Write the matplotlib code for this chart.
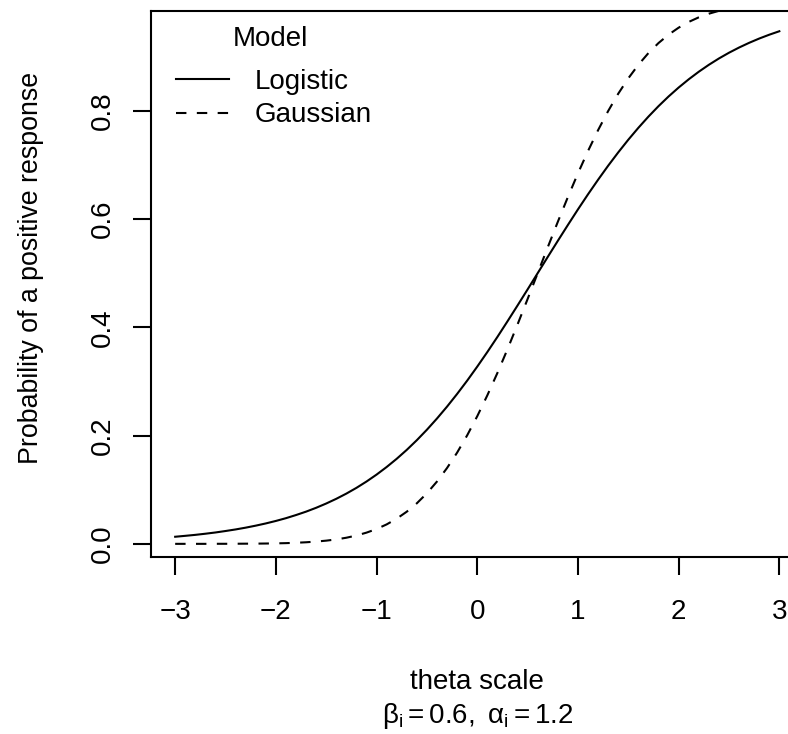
import matplotlib
matplotlib.use("Agg")
import matplotlib.pyplot as plt
from matplotlib.lines import Line2D

plt.rcParams['font.family'] = ['Liberation Sans', 'DejaVu Sans']
plt.rcParams['mathtext.fontset'] = 'custom'
plt.rcParams['mathtext.rm'] = 'Liberation Sans'
plt.rcParams['mathtext.it'] = 'Liberation Sans'
plt.rcParams['mathtext.bf'] = 'Liberation Sans'

# theta grid and probabilities
theta = [-3.0, -2.9, -2.8, -2.7, -2.6, -2.5, -2.4, -2.3, -2.2, -2.1,
         -2.0, -1.9, -1.8, -1.7, -1.6, -1.5, -1.4, -1.3, -1.2, -1.1,
         -1.0, -0.9, -0.8, -0.7, -0.6, -0.5, -0.4, -0.3, -0.2, -0.1,
         0.0, 0.1, 0.2, 0.3, 0.4, 0.5, 0.6, 0.7, 0.8, 0.9,
         1.0, 1.1, 1.2, 1.3, 1.4, 1.5, 1.6, 1.7, 1.8, 1.9,
         2.0, 2.1, 2.2, 2.3, 2.4, 2.5, 2.6, 2.7, 2.8, 2.9, 3.0]
logistic = [0.0131, 0.0148, 0.0166, 0.0187, 0.0210, 0.0237, 0.0266, 0.0299, 0.0336, 0.0377,
            0.0423, 0.0474, 0.0532, 0.0595, 0.0666, 0.0745, 0.0832, 0.0928, 0.1034, 0.1151,
            0.1279, 0.1419, 0.1571, 0.1736, 0.1915, 0.2108, 0.2315, 0.2535, 0.2769, 0.3015,
            0.3274, 0.3543, 0.3822, 0.4110, 0.4403, 0.4700, 0.5000, 0.5300, 0.5597, 0.5890,
            0.6178, 0.6457, 0.6726, 0.6985, 0.7231, 0.7465, 0.7685, 0.7892, 0.8085, 0.8264,
            0.8429, 0.8581, 0.8721, 0.8849, 0.8966, 0.9072, 0.9168, 0.9255, 0.9334, 0.9405, 0.9469]
gaussian = [0.0000, 0.0000, 0.0000, 0.0000, 0.0001, 0.0001, 0.0002, 0.0003, 0.0004, 0.0006,
            0.0009, 0.0013, 0.0020, 0.0029, 0.0042, 0.0059, 0.0082, 0.0113, 0.0154, 0.0207,
            0.0274, 0.0359, 0.0465, 0.0594, 0.0749, 0.0934, 0.1151, 0.1401, 0.1685, 0.2005,
            0.2358, 0.2743, 0.3156, 0.3594, 0.4052, 0.4522, 0.5000, 0.5478, 0.5948, 0.6406,
            0.6844, 0.7257, 0.7642, 0.7995, 0.8315, 0.8599, 0.8849, 0.9066, 0.9251, 0.9406,
            0.9535, 0.9641, 0.9726, 0.9793, 0.9846, 0.9887, 0.9918, 0.9941, 0.9959, 0.9971, 0.9980]
x_ticks = [-3, -2, -1, 0, 1, 2, 3]
y_ticks = [0.0, 0.2, 0.4, 0.6, 0.8]
y_tick_labels = ["0.0", "0.2", "0.4", "0.6", "0.8"]
series_names = ["Logistic", "Gaussian"]
legend_title = "Model"
x_label = "theta scale"
x_sublabel = r"$\mathrm{\beta_i = 0.6,\ \alpha_i = 1.2}$"
y_label = "Probability of a positive response"

W, H = 788, 734
fig = plt.figure(figsize=(W / 100, H / 100), dpi=100)
# plot box runs past the right edge of the image in the reference; keep the
# visible part only (same data-to-pixel scale: -3.24..3.24 over 652.5 px)
ax_left, ax_top, ax_bottom = 151, 11, 557
px_per_unit = 652.5 / 6.48
ax_right = W
x_min = -3.24
x_max = x_min + (ax_right - ax_left) / px_per_unit
ax = fig.add_axes([ax_left / W, 1 - ax_bottom / H, (ax_right - ax_left) / W, (ax_bottom - ax_top) / H])

lw = 1.5
dash = (0, (5, 5))
ax.plot(theta, logistic, color='black', lw=lw, linestyle='-')
ax.plot(theta, gaussian, color='black', lw=lw, linestyle=dash)

ax.set_xlim(x_min, x_max)
ax.set_ylim(-0.0243, 0.9843)
ax.set_xticks(x_ticks)
ax.set_xticklabels([f"\u2212{abs(v)}" if v < 0 else str(v) for v in x_ticks])
ax.set_yticks(y_ticks)
ax.set_yticklabels(y_tick_labels, rotation=90, va='center')

for s in ax.spines.values():
    s.set_linewidth(lw)
ax.spines['right'].set_visible(False)
ax.tick_params(axis='both', length=13, width=lw, labelsize=20, direction='out', color='black')
ax.tick_params(axis='x', pad=17)
ax.tick_params(axis='y', pad=12)

# axis labels (centred on the full plot box, which ends at ~803 px)
box_center_x = (ax_left + 803.5) / 2
ax.set_xlabel(x_label, fontsize=20)
ax.xaxis.label.set_va('center')
ax.xaxis.set_label_coords((box_center_x - ax_left) / (ax_right - ax_left), (ax_bottom - 682) / (ax_bottom - ax_top))
fig.text(box_center_x / W, 1 - 716 / H, x_sublabel, fontsize=20, ha='center', va='center')

ax.set_ylabel(y_label, fontsize=19.3)
ax.yaxis.label.set_va('center')
ax.yaxis.set_label_coords((31 - ax_left) / (ax_right - ax_left), (ax_bottom - 268) / (ax_bottom - ax_top))

# legend (no frame), title drawn as centred text above entries
handles = [Line2D([], [], color='black', lw=lw, linestyle='-'),
           Line2D([], [], color='black', lw=lw, linestyle=dash)]
leg = fig.legend(handles, series_names, loc='upper left', frameon=False, fontsize=20,
                 handlelength=1.9, handletextpad=0.94, labelspacing=0.27,
                 borderpad=0.0, borderaxespad=0.0,
                 bbox_to_anchor=(176 / W, 1 - 69 / H))
fig.text(270 / W, 1 - 39 / H, legend_title, fontsize=20, ha='center', va='center')

fig.savefig("out.png", dpi=100)
